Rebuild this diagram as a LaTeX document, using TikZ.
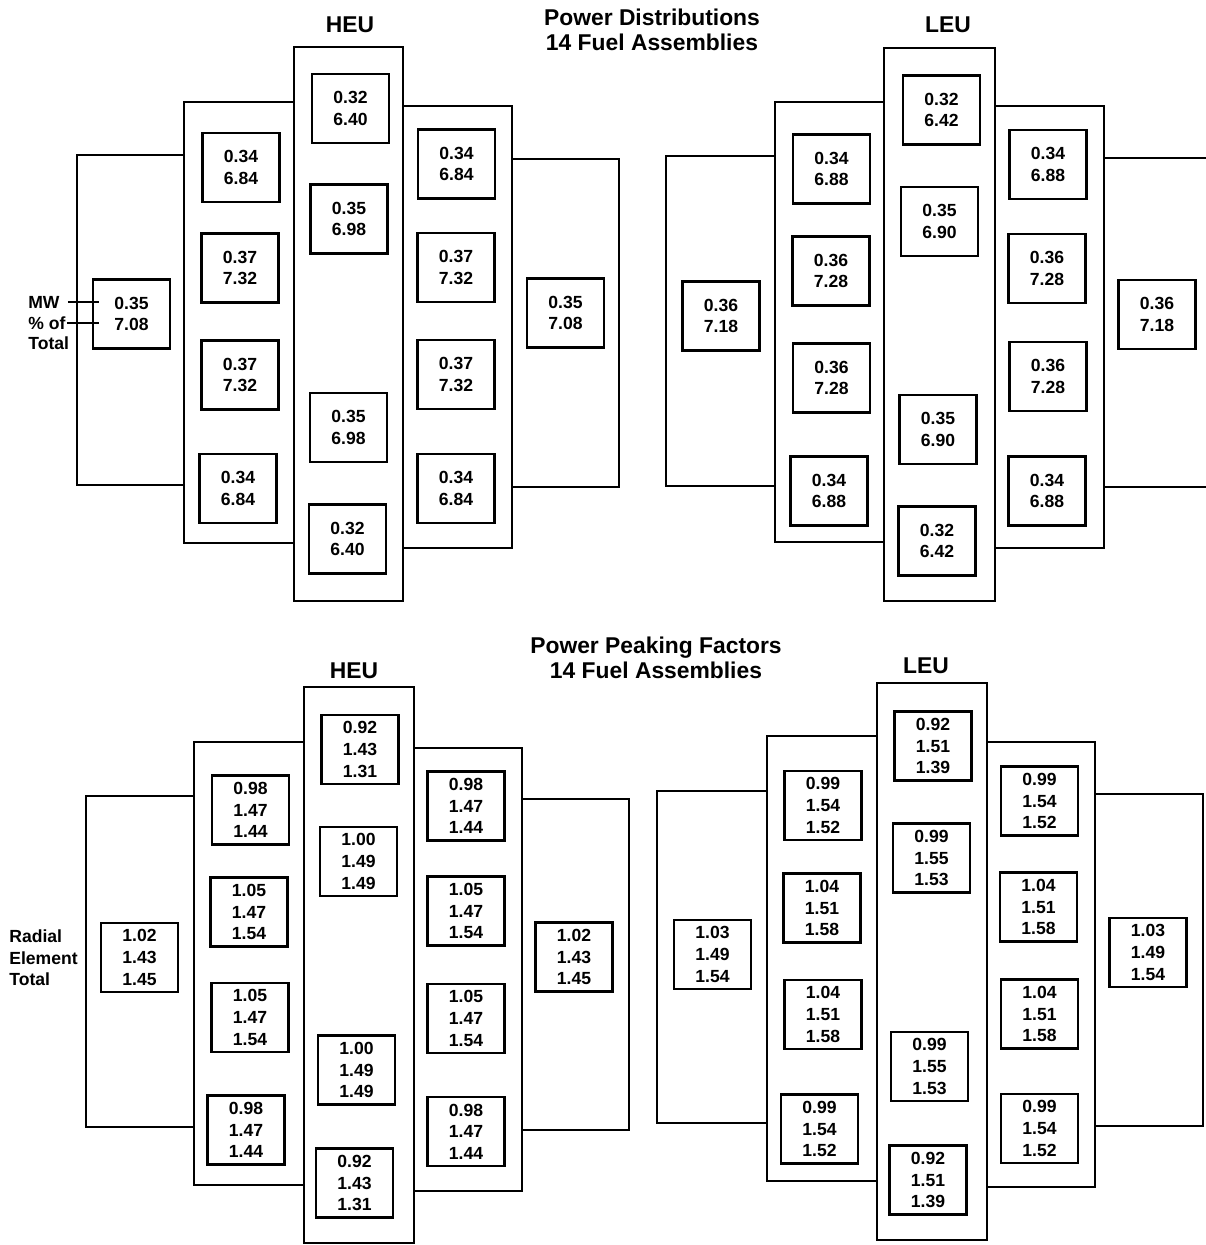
\documentclass[tikz,border=0pt]{standalone}
\usepackage{fontspec}
\setmainfont{Liberation Sans}
\usetikzlibrary{positioning}

\begin{document}
\begin{tikzpicture}[
  x=0.02cm, y=-0.02cm,
  font=\bfseries\fontsize{10}{12.3}\selectfont,
  col/.style={line width=1.2pt},
  cell/.style={draw, line width=1.6pt, minimum width=1.54cm, minimum height=1.38cm, inner sep=0pt, align=center},
  ttl/.style={font=\bfseries\fontsize{13}{14.5}\selectfont, align=center},
  core/.style={font=\bfseries\fontsize{13}{15}\selectfont},
  lbl/.style={anchor=west, inner sep=0pt, align=left, font=\bfseries\fontsize{10}{12.2}\selectfont},
]
\useasboundingbox (0,0) rectangle (1206,1245);
% titles
\node[ttl] (pdtitle) at (652,30) {Power Distributions\\14 Fuel Assemblies};
\node[ttl] (pftitle) at (656,658) {Power Peaking Factors\\14 Fuel Assemblies};
\node[core] (pdHeu) at (350,25) {HEU};
\node[core] (pdLeu) at (948,25) {LEU};
\node[core] (pfHeu) at (354,671) {HEU};
\node[core] (pfLeu) at (926,666) {LEU};
% assembly rows of the four cores
\foreach \xa/\ya/\xb/\yb in {
  77/155/184/485, 184/102/294/543, 294/47/403/601, 403/106/512/548, 512/159/619/487,
  666/156/775/486, 775/102/884/542, 884/48/995/601, 995/106/1104/548, 1104/158/1225/487,
  86/796/194/1127, 194/742/304/1185, 304/687/414/1243, 414/748/522/1191, 522/799/629/1130,
  657/791/767/1123, 767/736/877/1181, 877/683/987/1240, 987/742/1095/1187, 1095/794/1203/1126}
  \draw[col] (\xa,\ya) rectangle (\xb,\yb);
% power distributions, HEU
\foreach \n/\x/\y/\t in {
  pdHl/131.5/314/{0.35\\7.08},
  pdHa1/241/167.5/{0.34\\6.84}, pdHa2/240/268/{0.37\\7.32}, pdHa3/240/375/{0.37\\7.32}, pdHa4/238/488.5/{0.34\\6.84},
  pdHc1/350.5/108.5/{0.32\\6.40}, pdHc2/349/219/{0.35\\6.98}, pdHc3/348.5/427.5/{0.35\\6.98}, pdHc4/347.5/539/{0.32\\6.40},
  pdHb1/456.5/164/{0.34\\6.84}, pdHb2/456/267.5/{0.37\\7.32}, pdHb3/456/374.5/{0.37\\7.32}, pdHb4/456/488.5/{0.34\\6.84},
  pdHr/565.5/313/{0.35\\7.08}}
  \node[cell] (\n) at (\x,\y) {\t};
% power distributions, LEU
\foreach \n/\x/\y/\t in {
  pdLl/721/316/{0.36\\7.18},
  pdLa1/831.5/169/{0.34\\6.88}, pdLa2/831/271/{0.36\\7.28}, pdLa3/831.5/378/{0.36\\7.28}, pdLa4/829/491/{0.34\\6.88},
  pdLc1/941.5/110/{0.32\\6.42}, pdLc2/939.5/221.5/{0.35\\6.90}, pdLc3/938/429.5/{0.35\\6.90}, pdLc4/937/541/{0.32\\6.42},
  pdLb1/1048/164.5/{0.34\\6.88}, pdLb2/1047/268.5/{0.36\\7.28}, pdLb3/1048/376.5/{0.36\\7.28}, pdLb4/1047/491/{0.34\\6.88},
  pdLr/1157/314.5/{0.36\\7.18}}
  \node[cell] (\n) at (\x,\y) {\t};
% peaking factors, HEU
\foreach \n/\x/\y/\t in {
  pfHl/139.5/957.5/{1.02\\1.43\\1.45},
  pfHa1/250.5/810/{0.98\\1.47\\1.44}, pfHa2/249/912/{1.05\\1.47\\1.54}, pfHa3/250/1017.5/{1.05\\1.47\\1.54}, pfHa4/246/1130/{0.98\\1.47\\1.44},
  pfHc1/360/749.5/{0.92\\1.43\\1.31}, pfHc2/358.5/861.5/{1.00\\1.49\\1.49}, pfHc3/356.5/1070/{1.00\\1.49\\1.49}, pfHc4/354.5/1183/{0.92\\1.43\\1.31},
  pfHb1/466/806/{0.98\\1.47\\1.44}, pfHb2/466/911/{1.05\\1.47\\1.54}, pfHb3/466/1018.5/{1.05\\1.47\\1.54}, pfHb4/466/1131.5/{0.98\\1.47\\1.44},
  pfHr/574/957/{1.02\\1.43\\1.45}}
  \node[cell] (\n) at (\x,\y) {\t};
% peaking factors, LEU
\foreach \n/\x/\y/\t in {
  pfLl/712.5/954.5/{1.03\\1.49\\1.54},
  pfLa1/823/805.5/{0.99\\1.54\\1.52}, pfLa2/822/908/{1.04\\1.51\\1.58}, pfLa3/823/1014.5/{1.04\\1.51\\1.58}, pfLa4/819.5/1129/{0.99\\1.54\\1.52},
  pfLc1/933/746/{0.92\\1.51\\1.39}, pfLc2/931.5/858/{0.99\\1.55\\1.53}, pfLc3/929.5/1066.5/{0.99\\1.55\\1.53}, pfLc4/928/1180/{0.92\\1.51\\1.39},
  pfLb1/1039.5/801/{0.99\\1.54\\1.52}, pfLb2/1038.5/907/{1.04\\1.51\\1.58}, pfLb3/1039.5/1014/{1.04\\1.51\\1.58}, pfLb4/1039.5/1128.5/{0.99\\1.54\\1.52},
  pfLr/1148/952.5/{1.03\\1.49\\1.54}}
  \node[cell] (\n) at (\x,\y) {\t};
% keys
\node[lbl] (mw) at (28,302) {MW};
\node[lbl] (pct) at (28,323) {\% of};
\node[lbl] (tot) at (28,343) {Total};
\draw[line width=1.1pt] ([xshift=1.6mm]mw.east) -- ([xshift=1.4mm]pdHl.west |- mw.east);
\draw[line width=1.1pt] ([xshift=0.2mm]pct.east) -- ([xshift=1.4mm]pdHl.west |- pct.east);
\node[lbl] (radial) at (9,958) {Radial\\Element\\Total};
\end{tikzpicture}
\end{document}
